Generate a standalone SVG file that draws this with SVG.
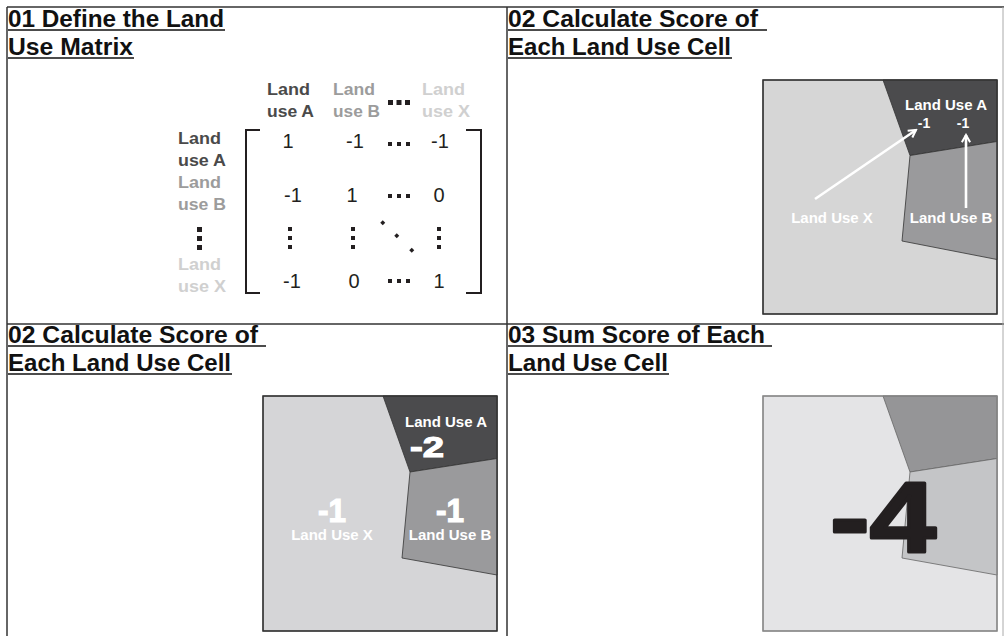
<svg xmlns="http://www.w3.org/2000/svg" width="1004" height="636" viewBox="0 0 1004 636">
<defs>
<style>
.h{font-family:"Liberation Sans",Arial,sans-serif;font-weight:bold;font-size:23px;fill:#111}
.ul{stroke:#111;stroke-width:1.6}
.grid{stroke:#333;stroke-width:1.5;fill:none}
.lbl{font-family:"Liberation Sans",Arial,sans-serif;font-weight:bold;font-size:16px}
.num{font-family:"Liberation Sans",Arial,sans-serif;font-size:20px;fill:#231f20;text-anchor:middle}
.w{font-family:"Liberation Sans",Arial,sans-serif;font-weight:bold;fill:#fff;text-anchor:middle}
.big{stroke:#fff;stroke-width:1.2}
.dot{fill:#231f20}
.br{stroke:#231f20;stroke-width:2;fill:none}
.arr{stroke:#fff;stroke-width:2.6;fill:none}
</style>
<marker id="ah" viewBox="0 0 10 10" refX="8" refY="5" markerWidth="4" markerHeight="4" orient="auto" markerUnits="strokeWidth">
<path d="M1,1 L8,5 L1,9" fill="none" stroke="#fff" stroke-width="2"/>
</marker>
</defs>
<rect width="1004" height="636" fill="#fff"/>
<g id="grid">
<line class="grid" x1="7" y1="7" x2="1004" y2="7"/>
<line class="grid" x1="7" y1="7" x2="7" y2="636"/>
<line class="grid" x1="507" y1="7" x2="507" y2="636"/>
<line class="grid" x1="7" y1="324" x2="1004" y2="324"/>
<line x1="1003" y1="7" x2="1003" y2="636" stroke="#aaa" stroke-width="1"/>
</g>
<g id="panel1">
<text class="h" x="8" y="27" textLength="216" lengthAdjust="spacingAndGlyphs">01 Define the Land</text>
<line class="ul" x1="8" y1="30" x2="225" y2="30"/>
<text class="h" x="8" y="55" textLength="125" lengthAdjust="spacingAndGlyphs">Use Matrix</text>
<line class="ul" x1="8" y1="58" x2="134" y2="58"/>
<g id="col-headers">
<text class="lbl" fill="#4a4a4a" x="267" y="95" textLength="43" lengthAdjust="spacingAndGlyphs">Land</text>
<text class="lbl" fill="#4a4a4a" x="267" y="117" textLength="47" lengthAdjust="spacingAndGlyphs">use A</text>
<text class="lbl" fill="#9c9c9c" x="333" y="95" textLength="42" lengthAdjust="spacingAndGlyphs">Land</text>
<text class="lbl" fill="#9c9c9c" x="333" y="117" textLength="47" lengthAdjust="spacingAndGlyphs">use B</text>
<rect class="dot" x="388" y="100" width="5" height="5"/><rect class="dot" x="396.5" y="100" width="5" height="5"/><rect class="dot" x="405" y="100" width="5" height="5"/>
<text class="lbl" fill="#d0d0d0" x="422" y="95" textLength="43" lengthAdjust="spacingAndGlyphs">Land</text>
<text class="lbl" fill="#d0d0d0" x="422" y="117" textLength="48" lengthAdjust="spacingAndGlyphs">use X</text>
</g>
<g id="row-headers">
<text class="lbl" fill="#4a4a4a" x="178" y="144" textLength="43" lengthAdjust="spacingAndGlyphs">Land</text>
<text class="lbl" fill="#4a4a4a" x="178" y="166" textLength="48" lengthAdjust="spacingAndGlyphs">use A</text>
<text class="lbl" fill="#9c9c9c" x="178" y="188" textLength="43" lengthAdjust="spacingAndGlyphs">Land</text>
<text class="lbl" fill="#9c9c9c" x="178" y="210" textLength="48" lengthAdjust="spacingAndGlyphs">use B</text>
<rect class="dot" x="197" y="227" width="5" height="5"/><rect class="dot" x="197" y="236" width="5" height="5"/><rect class="dot" x="197" y="245" width="5" height="5"/>
<text class="lbl" fill="#d0d0d0" x="178" y="270" textLength="43" lengthAdjust="spacingAndGlyphs">Land</text>
<text class="lbl" fill="#d0d0d0" x="178" y="292" textLength="48" lengthAdjust="spacingAndGlyphs">use X</text>
</g>
<g id="matrix">
<path class="br" d="M260,130 H246 V293 H260"/>
<path class="br" d="M466,130 H481 V293 H466"/>
<text class="num" x="288" y="148">1</text>
<text class="num" x="355" y="148">-1</text>
<text class="num" x="440" y="148">-1</text>
<text class="num" x="293" y="202">-1</text>
<text class="num" x="352" y="202">1</text>
<text class="num" x="439" y="202">0</text>
<text class="num" x="292" y="288">-1</text>
<text class="num" x="354" y="288">0</text>
<text class="num" x="439" y="288">1</text>
<g id="hdots">
<rect class="dot" x="388" y="142" width="4" height="4"/><rect class="dot" x="397" y="142" width="4" height="4"/><rect class="dot" x="406" y="142" width="4" height="4"/>
<rect class="dot" x="388" y="194" width="4" height="4"/><rect class="dot" x="397" y="194" width="4" height="4"/><rect class="dot" x="406" y="194" width="4" height="4"/>
<rect class="dot" x="388" y="279" width="4" height="4"/><rect class="dot" x="397" y="279" width="4" height="4"/><rect class="dot" x="406" y="279" width="4" height="4"/>
</g>
<g id="vdots">
<rect class="dot" x="288" y="227" width="4" height="4"/><rect class="dot" x="288" y="236" width="4" height="4"/><rect class="dot" x="288" y="245" width="4" height="4"/>
<rect class="dot" x="351" y="227" width="4" height="4"/><rect class="dot" x="351" y="236" width="4" height="4"/><rect class="dot" x="351" y="245" width="4" height="4"/>
<rect class="dot" x="437" y="227" width="4" height="4"/><rect class="dot" x="437" y="236" width="4" height="4"/><rect class="dot" x="437" y="245" width="4" height="4"/>
</g>
<g id="ddots">
<rect class="dot" x="381" y="221" width="3.5" height="3.5" transform="rotate(45 382.75 222.75)"/>
<rect class="dot" x="395" y="234" width="3.5" height="3.5" transform="rotate(45 396.75 235.75)"/>
<rect class="dot" x="410" y="248.5" width="3.5" height="3.5" transform="rotate(45 411.75 250.25)"/>
</g>
</g>
</g>
<g id="panel2">
<text class="h" x="508" y="27" textLength="250" lengthAdjust="spacingAndGlyphs">02 Calculate Score of</text>
<line class="ul" x1="508" y1="30" x2="767" y2="30"/>
<text class="h" x="508" y="55" textLength="223" lengthAdjust="spacingAndGlyphs">Each Land Use Cell</text>
<line class="ul" x1="508" y1="58" x2="732" y2="58"/>
<rect x="763" y="80" width="234" height="234" fill="#d6d6d6" stroke="#333" stroke-width="1.2"/>
<polygon points="883,80 997,80 997,141.5 910,155.5" fill="#4b4b4d" stroke="#333" stroke-width="0.8"/>
<polygon points="910,155.5 997,141.5 997,259.5 902,241" fill="#9a9a9c" stroke="#333" stroke-width="0.8"/>
<rect x="763" y="80" width="234" height="234" fill="none" stroke="#333" stroke-width="1.2"/>
<text class="w" font-size="15" x="946" y="110">Land Use A</text>
<text class="w" font-size="14" x="924" y="128">-1</text>
<text class="w" font-size="14" x="963" y="128">-1</text>
<text class="w" font-size="15" x="832" y="223">Land Use X</text>
<text class="w" font-size="15" x="951" y="223">Land Use B</text>
</g>
<g id="connectors">
<line class="arr" x1="815" y1="199" x2="916" y2="130" marker-end="url(#ah)"/>
<line class="arr" x1="966" y1="208" x2="966" y2="135" marker-end="url(#ah)"/>
</g>
<g id="panel3">
<text class="h" x="8" y="343" textLength="250" lengthAdjust="spacingAndGlyphs">02 Calculate Score of</text>
<line class="ul" x1="8" y1="346" x2="266" y2="346"/>
<text class="h" x="8" y="371" textLength="223" lengthAdjust="spacingAndGlyphs">Each Land Use Cell</text>
<line class="ul" x1="8" y1="374" x2="232" y2="374"/>
<rect x="263" y="396" width="234" height="235" fill="#d5d5d7" stroke="#333" stroke-width="1.2"/>
<polygon points="383,396 497,396 497,458.5 410,472" fill="#4b4b4d" stroke="#333" stroke-width="0.8"/>
<polygon points="410,472 497,458.5 497,575 402,558" fill="#9a9a9c" stroke="#333" stroke-width="0.8"/>
<rect x="263" y="396" width="234" height="235" fill="none" stroke="#333" stroke-width="1.2"/>
<text class="w" font-size="15" x="446" y="427">Land Use A</text>
<text class="w big" font-size="30" x="427" y="457" textLength="34" lengthAdjust="spacingAndGlyphs">-2</text>
<text class="w big" font-size="33" x="332" y="522" textLength="28" lengthAdjust="spacingAndGlyphs">-1</text>
<text class="w" font-size="15" x="332" y="540">Land Use X</text>
<text class="w big" font-size="33" x="450" y="522" textLength="28" lengthAdjust="spacingAndGlyphs">-1</text>
<text class="w" font-size="15" x="450" y="540">Land Use B</text>
</g>
<g id="panel4">
<text class="h" x="508" y="343" textLength="257" lengthAdjust="spacingAndGlyphs">03 Sum Score of Each</text>
<line class="ul" x1="508" y1="346" x2="772" y2="346"/>
<text class="h" x="508" y="371" textLength="160" lengthAdjust="spacingAndGlyphs">Land Use Cell</text>
<line class="ul" x1="508" y1="374" x2="669" y2="374"/>
<rect x="763" y="396" width="234" height="235" fill="#e4e4e6" stroke="#888" stroke-width="1.2"/>
<polygon points="883,396 997,396 997,458.5 910,472" fill="#959597" stroke="#666" stroke-width="0.8"/>
<polygon points="910,472 997,458.5 997,575 902,558" fill="#c4c5c7" stroke="#666" stroke-width="0.8"/>
<rect x="763" y="396" width="234" height="235" fill="none" stroke="#888" stroke-width="1.2"/>
<text font-family="'Liberation Sans',Arial,sans-serif" font-weight="bold" font-size="100" fill="#231f20" stroke="#231f20" stroke-width="3" stroke-linejoin="round" x="830" y="552" textLength="106" lengthAdjust="spacingAndGlyphs">-4</text>
</g>
</svg>
